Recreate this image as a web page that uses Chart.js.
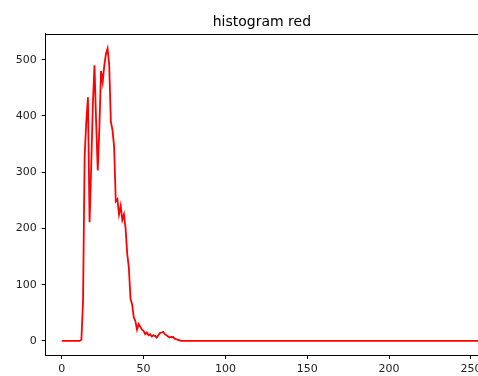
<!DOCTYPE html>
<html>
<head>
<meta charset="utf-8">
<script src="https://cdn.jsdelivr.net/npm/chart.js@4/dist/chart.umd.min.js"></script>
<style>
  html, body { margin: 0; padding: 0; background: #fff; }
  #wrap { width: 478px; height: 376px; }
</style>
</head>
<body>
<div id="wrap"><canvas id="c" width="478" height="376"></canvas></div>
<script>
// Pixel intensity bins (0..255)
const bins = Array.from({ length: 256 }, (_, i) => i);
// Red channel histogram counts
const counts = [
  0,0,0,0,0,0,0,0,0,0,0,0,2,70,330,390,
  433,211,310,420,490,390,303,380,480,460,490,510,520,490,390,375,
  345,248,252,225,240,215,225,200,155,130,75,65,42,35,20,30,
  25,20,18,12,15,10,12,8,10,9,6,10,14,15,16,12,
  10,8,6,7,7,4,3,2,1,0,0,0,0,0,0,0,
  0,0,0,0,0,0,0,0,0,0,0,0,0,0,0,0,
  0,0,0,0,0,0,0,0,0,0,0,0,0,0,0,0,
  0,0,0,0,0,0,0,0,0,0,0,0,0,0,0,0,
  0,0,0,0,0,0,0,0,0,0,0,0,0,0,0,0,
  0,0,0,0,0,0,0,0,0,0,0,0,0,0,0,0,
  0,0,0,0,0,0,0,0,0,0,0,0,0,0,0,0,
  0,0,0,0,0,0,0,0,0,0,0,0,0,0,0,0,
  0,0,0,0,0,0,0,0,0,0,0,0,0,0,0,0,
  0,0,0,0,0,0,0,0,0,0,0,0,0,0,0,0,
  0,0,0,0,0,0,0,0,0,0,0,0,0,0,0,0,
  0,0,0,0,0,0,0,0,0,0,0,0,0,0,0,0
];
const xTicks = [0, 50, 100, 150, 200, 250];
const yTicks = [0, 100, 200, 300, 400, 500];
const titleText = 'histogram red';

const FONT = 'DejaVu Sans';

const topSpine = {
  id: 'topSpine',
  afterDraw(chart) {
    const { ctx, chartArea } = chart;
    ctx.save();
    ctx.strokeStyle = '#000';
    ctx.lineWidth = 1;
    const y = Math.round(chartArea.top) + 0.5;
    ctx.beginPath();
    ctx.moveTo(chartArea.left, y);
    ctx.lineTo(chartArea.right + 2, y);
    ctx.stroke();
    ctx.restore();
  }
};

new Chart(document.getElementById('c'), {
  type: 'line',
  data: {
    datasets: [{
      data: bins.map((b, i) => ({ x: b, y: counts[i] })),
      borderColor: '#ff0000',
      borderWidth: 1.8,
      pointRadius: 0,
      tension: 0,
      fill: false
    }]
  },
  options: {
    responsive: false,
    animation: false,
    layout: { padding: { left: 0, right: 0, top: 0, bottom: 0 } },
    plugins: {
      legend: { display: false },
      tooltip: { enabled: false },
      title: {
        display: true,
        text: titleText,
        fullSize: false,
        color: '#000',
        font: { family: FONT, size: 14, weight: 'normal' },
        padding: { top: 14, bottom: 3 }
      }
    },
    scales: {
      x: {
        type: 'linear',
        min: -9.8,
        max: 254.3,
        afterBuildTicks(scale) { scale.ticks = xTicks.map(v => ({ value: v })); },
        afterFit(scale) { scale.height = 21; scale.paddingLeft = 0; scale.paddingRight = 0; },
        grid: { display: true, drawOnChartArea: false, tickLength: 4, tickColor: '#000', tickWidth: 1 },
        border: { display: true, color: '#000', width: 1 },
        ticks: {
          color: '#222',
          font: { family: FONT, size: 11 },
          padding: 4,
          maxRotation: 0,
          autoSkip: false
        }
      },
      y: {
        type: 'linear',
        min: -25,
        max: 546,
        afterBuildTicks(scale) { scale.ticks = yTicks.map(v => ({ value: v })); },
        afterFit(scale) { scale.width = 45.7; scale.paddingTop = 0; scale.paddingBottom = 0; },
        grid: { display: true, drawOnChartArea: false, tickLength: 4, tickColor: '#000', tickWidth: 1 },
        border: { display: true, color: '#000', width: 1 },
        ticks: {
          color: '#222',
          font: { family: FONT, size: 11 },
          padding: 5,
          autoSkip: false
        }
      }
    }
  },
  plugins: [topSpine]
});
</script>
</body>
</html>
